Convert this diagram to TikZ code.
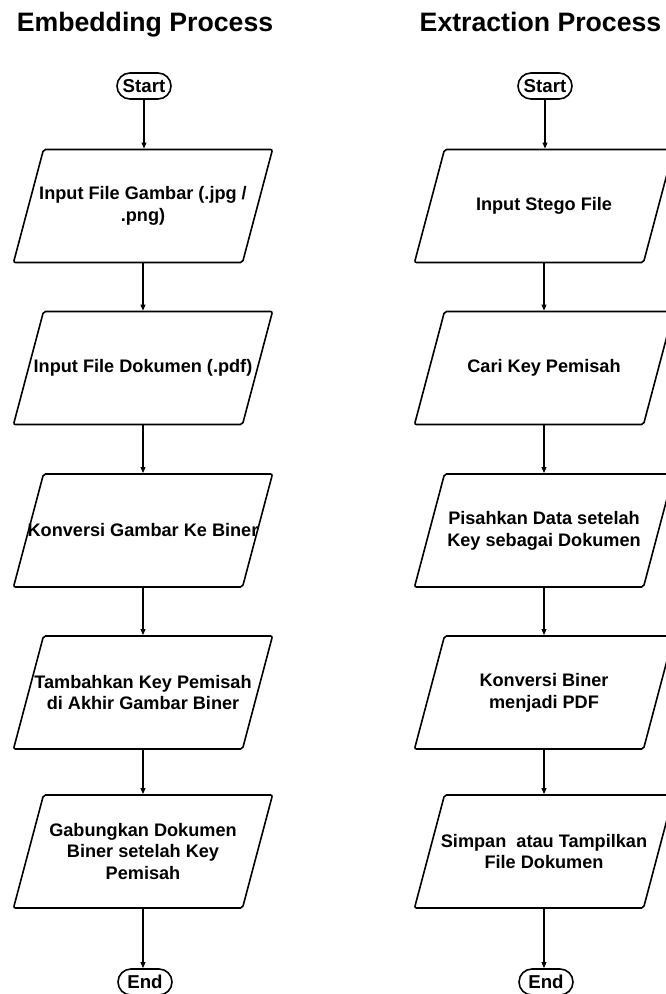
\documentclass[tikz,border=0pt]{standalone}
\usepackage{fontspec}
\setmainfont{Liberation Sans}
\usetikzlibrary{arrows.meta}

\begin{document}
\begin{tikzpicture}[x=0.75pt,y=-0.75pt,line width=1.2pt,
  terminal/.style={draw,rounded corners=9.75pt,minimum width=40.5pt,minimum height=19.5pt,
    inner sep=0pt,font=\fontsize{14}{16}\selectfont\bfseries},
  io/.style={inner sep=0pt,minimum width=171.75pt,minimum height=84.75pt,
    align=center,font=\fontsize{13.6}{16.3}\selectfont\bfseries,
    append after command={\pgfextra{\draw[rounded corners=1.5pt]
      ([shift={(-99.5,-56.5)}]\tikzlastnode.center) -- ([shift={(129.5,-56.5)}]\tikzlastnode.center)
      -- ([shift={(99.5,56.5)}]\tikzlastnode.center) -- ([shift={(-129.5,56.5)}]\tikzlastnode.center)
      -- cycle;}}},
  title/.style={anchor=base,font=\fontsize{20}{24}\selectfont\bfseries},
  arr/.style={-{Triangle[length=4.5pt,width=3.5pt]},line width=1pt}]
  \useasboundingbox (0,0) rectangle (666,994);
  \clip (0,0) rectangle (666,994);

  % embedding
  \node[title] (t1) at (145,32) {Embedding Process};
  \node[terminal] (s1) at (144,86) {Start};
  \node[io] (p1) at (143,206) {Input File Gambar (.jpg /\\.png)};
  \node[io] (p2) at (143,368) {Input File Dokumen (.pdf)};
  \node[io] (p3) at (143,530.5) {Konversi Gambar Ke Biner};
  \node[io] (p4) at (143,692.5) {Tambahkan Key Pemisah\\di Akhir Gambar Biner};
  \node[io] (p5) at (143,851.5) {Gabungkan Dokumen\\Biner setelah Key\\Pemisah};
  \node[terminal] (e1) at (145,982) {End};

  % extraction
  \node[title] (t2) at (540.5,32) {Extraction Process};
  \node[terminal] (s2) at (545,86) {Start};
  \node[io] (q1) at (544,206) {Input Stego File};
  \node[io] (q2) at (544,368) {Cari Key Pemisah};
  \node[io] (q3) at (544,530.5) {Pisahkan Data setelah\\Key sebagai Dokumen};
  \node[io] (q4) at (544,692.5) {Konversi Biner\\menjadi PDF};
  \node[io] (q5) at (544,851.5) {Simpan\ \ atau Tampilkan\\File Dokumen};
  \node[terminal] (e2) at (546,982) {End};

  \foreach \a/\b in {s1/p1,p1/p2,p2/p3,p3/p4,p4/p5,p5/e1,s2/q1,q1/q2,q2/q3,q3/q4,q4/q5,q5/e2}
    \draw[arr] (\a) -- (\a |- \b.north);
\end{tikzpicture}
\end{document}
